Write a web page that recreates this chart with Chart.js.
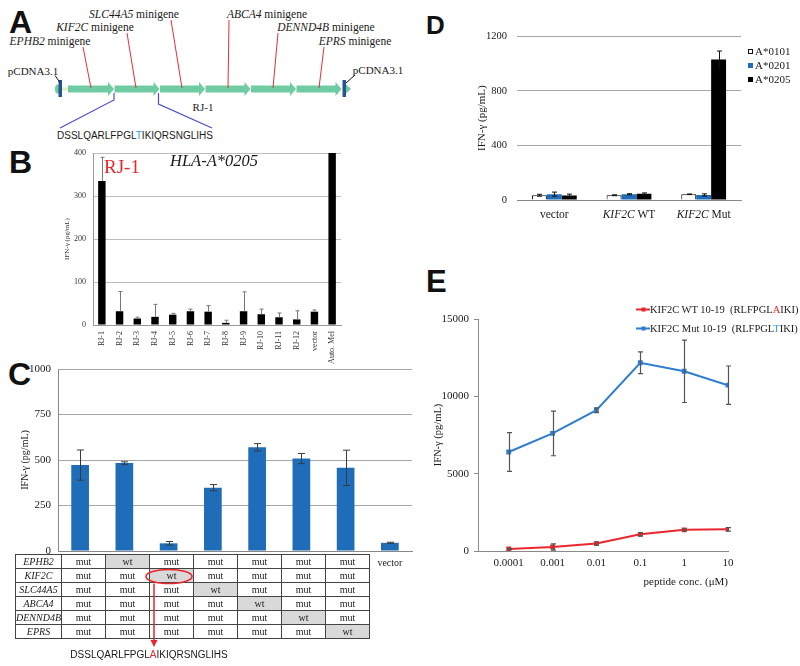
<!DOCTYPE html>
<html>
<head>
<meta charset="utf-8">
<script src="https://cdn.jsdelivr.net/npm/chart.js@4.4.1/dist/chart.umd.min.js"></script>
<style>
html, body { margin: 0; padding: 0; background: #fff; }
#fig { position: relative; width: 800px; height: 666px; overflow: hidden;
       font-family: "Liberation Serif", "Times New Roman", serif; color: #1a1a1a; }
canvas { position: absolute; }
.t  { position: absolute; white-space: nowrap; line-height: 1; transform: translate(-50%, -50%); }
.tl { position: absolute; white-space: nowrap; line-height: 1; transform: translate(0, -50%); }
.letter { font-family: "Liberation Sans", Arial, sans-serif; font-weight: bold; color: #111; }
.sans { font-family: "Liberation Sans", Arial, sans-serif; }
.sq { position: absolute; width: 5px; height: 5px; box-sizing: border-box; }
table.geno { position: absolute; left: 15px; top: 554px; border-collapse: collapse;
             table-layout: fixed; font-size: 10px; }
table.geno td { border: 1px solid #444; height: 13px; padding: 0; text-align: center;
                line-height: 12px; background: #fff; }
table.geno td.gene { font-style: italic; }
table.geno td.wt { background: #d9d9d9; }
</style>
</head>
<body>
<div id="fig">

  <!-- panel letters -->
  <div class="tl letter" style="left:9px;top:22px;font-size:32px">A</div>
  <div class="tl letter" style="left:9px;top:162px;font-size:32px">B</div>
  <div class="tl letter" style="left:8px;top:374px;font-size:32px">C</div>
  <div class="tl letter" style="left:426px;top:25px;font-size:26px">D</div>
  <div class="tl letter" style="left:426px;top:281px;font-size:31px">E</div>

  <!-- panel A: minigene construct diagram -->
  <svg id="diagA" width="420" height="150" style="position:absolute;left:0;top:0"></svg>
  <div class="t" style="left:50px;top:42px;font-size:11.5px"><i>EPHB2</i> minigene</div>
  <div class="t" style="left:95px;top:28px;font-size:11.5px"><i>KIF2C</i> minigene</div>
  <div class="t" style="left:134px;top:15px;font-size:11.5px"><i>SLC44A5</i> minigene</div>
  <div class="t" style="left:267px;top:15px;font-size:11.5px"><i>ABCA4</i> minigene</div>
  <div class="t" style="left:326px;top:28px;font-size:11.5px"><i>DENND4B</i> minigene</div>
  <div class="t" style="left:355px;top:42px;font-size:11.5px"><i>EPRS</i> minigene</div>
  <div class="t" style="left:33px;top:71px;font-size:11px">pCDNA3.1</div>
  <div class="t" style="left:378px;top:70px;font-size:11px">pCDNA3.1</div>
  <div class="t" style="left:203px;top:107px;font-size:11px">RJ-1</div>
  <div class="t sans" style="left:135px;top:136px;font-size:10px">DSSLQARLFPGL<span style="color:#29a3dc">T</span>IKIQRSNGLIHS</div>

  <!-- panel B -->
  <canvas id="chartB" width="310" height="232" style="left:45px;top:140px"></canvas>
  <div class="t" style="left:122px;top:166px;font-size:19px;color:#e8262c">RJ-1</div>
  <div class="t" style="left:214px;top:161px;font-size:16.5px;font-style:italic">HLA-A*0205</div>

  <!-- panel C -->
  <canvas id="chartC" width="415" height="220" style="left:5px;top:355px"></canvas>
  <table class="geno" id="tableC"></table>
  <svg width="420" height="90" style="position:absolute;left:0;top:566px">
    <ellipse cx="169" cy="10.5" rx="23" ry="7" fill="none" stroke="#e8262c" stroke-width="1.6"/>
    <line x1="154" y1="17.5" x2="154" y2="75" stroke="#e8262c" stroke-width="1.5"/>
    <path d="M150.5 74 L157.5 74 L154 81 Z" fill="#e8262c"/>
  </svg>
  <div class="t sans" style="left:149px;top:655px;font-size:10px">DSSLQARLFPGL<span style="color:#e8262c">A</span>IKIQRSNGLIHS</div>

  <!-- panel D -->
  <canvas id="chartD" width="280" height="210" style="left:470px;top:20px"></canvas>
  <div id="legendD"></div>

  <!-- panel E -->
  <canvas id="chartE" width="310" height="290" style="left:430px;top:305px"></canvas>
  <svg width="16" height="30" style="position:absolute;left:636px;top:302px">
    <line x1="0" y1="7.5" x2="14" y2="7.5" stroke="#e8282e" stroke-width="2"/>
    <rect x="5.5" y="5.5" width="4" height="4" fill="#e8282e"/>
    <line x1="0" y1="26.5" x2="14" y2="26.5" stroke="#2e7dd1" stroke-width="2"/>
    <rect x="5.5" y="24.5" width="4" height="4" fill="#2e7dd1"/>
  </svg>
  <div class="tl" style="left:650px;top:310px;font-size:10.5px">KIF2C WT 10-19&nbsp; (RLFPGL<span style="color:#e8262c">A</span>IKI)</div>
  <div class="tl" style="left:650px;top:329px;font-size:10.5px">KIF2C Mut 10-19&nbsp; (RLFPGL<span style="color:#29a3dc">T</span>IKI)</div>
</div>

<script>
/* ─────────────────────────────────────────
   DATA
───────────────────────────────────────── */
// B – minigene library screen (HLA-A*0205)
const catB = ['RJ-1', 'RJ-2', 'RJ-3', 'RJ-4', 'RJ-5', 'RJ-6', 'RJ-7', 'RJ-8',
              'RJ-9', 'RJ-10', 'RJ-11', 'RJ-12', 'vector', 'Auto. Mel'];
const valB = [335, 32, 15, 19, 24, 32, 31, 5, 32, 25, 18, 13, 31, 400];
const errB = [55, 46, 3, 29, 3, 5, 14, 6, 45, 12, 10, 20, 4, 0];

// C – single-gene wt swaps
const genesC = ['EPHB2', 'KIF2C', 'SLC44A5', 'ABCA4', 'DENND4B', 'EPRS'];
const catC = ['all mut', 'EPHB2 wt', 'KIF2C wt', 'SLC44A5 wt', 'ABCA4 wt',
              'DENND4B wt', 'EPRS wt', 'vector'];
const valC = [472, 483, 42, 348, 570, 508, 457, 45];
const errC = [83, 7, 10, 17, 20, 28, 97, 3];

// D – HLA restriction
const catD = ['vector', 'KIF2C WT', 'KIF2C Mut'];
const allelesD = ['A*0101', 'A*0201', 'A*0205'];
const valD0101 = [35, 35, 42];
const valD0201 = [43, 42, 37];
const valD0205 = [33, 45, 1030];
const errD0101 = [7, 3, 2];
const errD0201 = [15, 4, 8];
const errD0205 = [10, 7, 62];

// E – peptide titration
const concE = ['0.0001', '0.001', '0.01', '0.1', '1', '10'];
const valEwt  = [130, 260, 480, 1080, 1370, 1400];
const errEwt  = [40, 200, 100, 110, 70, 110];
const valEmut = [6400, 7600, 9100, 12170, 11620, 10720];
const errEmut = [1250, 1440, 150, 700, 2020, 1240];

/* ─────────────────────────────────────────
   Defaults + small plugins
───────────────────────────────────────── */
Chart.defaults.font.family = '"Liberation Serif", "Times New Roman", serif';
Chart.defaults.color = '#1a1a1a';
Chart.defaults.animation = false;
Chart.defaults.plugins.legend.display = false;
Chart.defaults.plugins.tooltip.enabled = false;

const plain = v => String(v);   // no thousands separators

// error bars from dataset.errors, through the y scale
const errorBars = {
  id: 'errorBars',
  afterDatasetsDraw(chart, args, opts) {
    const ctx = chart.ctx;
    const y = chart.scales.y;
    ctx.save();
    ctx.strokeStyle = opts.color || '#444';
    ctx.lineWidth = opts.width || 1;
    chart.data.datasets.forEach((ds, i) => {
      if (!ds.errors) return;
      chart.getDatasetMeta(i).data.forEach((el, j) => {
        const raw = ds.data[j];
        const v = typeof raw === 'object' ? raw.y : raw;
        const e = ds.errors[j];
        if (!e) return;
        const x = Math.round(el.x) + 0.5;
        const top = y.getPixelForValue(v + e);
        const bot = opts.upOnly ? y.getPixelForValue(v) : y.getPixelForValue(v - e);
        const c = opts.cap || 3;
        ctx.beginPath();
        ctx.moveTo(x, top); ctx.lineTo(x, bot);
        ctx.moveTo(x - c, top); ctx.lineTo(x + c, top);
        if (!opts.upOnly) { ctx.moveTo(x - c, bot); ctx.lineTo(x + c, bot); }
        ctx.stroke();
      });
    });
    ctx.restore();
  }
};

// category labels with italic gene name (panel D)
const geneLabels = {
  id: 'geneLabels',
  afterDraw(chart, args, opts) {
    const { ctx, scales: { x } } = chart;
    const fam = '"Liberation Serif", "Times New Roman", serif';
    const y = chart.chartArea.bottom + opts.offset;
    ctx.save();
    ctx.fillStyle = '#1a1a1a';
    ctx.textBaseline = 'middle';
    ctx.textAlign = 'left';
    chart.data.labels.forEach((lab, i) => {
      const cx = x.getPixelForValue(i);
      const parts = lab.split(' ');
      const ital = opts.italic.includes(parts[0]);
      const a = ital ? parts[0] : lab;
      const b = ital ? ' ' + parts.slice(1).join(' ') : '';
      ctx.font = (ital ? 'italic ' : '') + opts.size + 'px ' + fam;
      const wa = ctx.measureText(a).width;
      ctx.font = opts.size + 'px ' + fam;
      const wb = ctx.measureText(b).width;
      const sx = cx - (wa + wb) / 2;
      ctx.font = (ital ? 'italic ' : '') + opts.size + 'px ' + fam;
      ctx.fillText(a, sx, y);
      ctx.font = opts.size + 'px ' + fam;
      ctx.fillText(b, sx + wa, y);
    });
    ctx.restore();
  }
};

/* ─────────────────────────────────────────
   PANEL A – construct diagram (not data)
───────────────────────────────────────── */
(function drawDiagram() {
  const svg = document.getElementById('diagA');
  let s = '';
  const starts = [68, 114.5, 160, 205.5, 251, 296.5];
  const tips   = [114, 159.5, 205, 250.5, 296, 341.5];
  starts.forEach((x0, i) => {
    const x1 = tips[i], h = x1 - 6;
    s += `<path d="M${x0} 85.5 L${h} 85.5 L${h} 82 L${x1} 89 L${h} 96 L${h} 92.5 L${x0} 92.5 Z" fill="#6fcba2"/>`;
  });
  s += '<line x1="61" y1="89" x2="68" y2="89" stroke="#e6efc4" stroke-width="3"/>';
  s += '<ellipse cx="57.5" cy="89" rx="2.5" ry="4.5" fill="#6fcba2"/>';
  s += '<rect x="58.5" y="80" width="3.5" height="17" fill="#23578f"/>';
  s += '<path d="M345.5 84 L351 89 L345.5 94 Z" fill="#6fcba2"/>';
  s += '<rect x="342.5" y="80" width="3.5" height="17" fill="#23578f"/>';
  s += '<line x1="55" y1="75.5" x2="60" y2="82.5" stroke="#111" stroke-width="1"/>';
  s += '<line x1="355" y1="75" x2="346" y2="83" stroke="#111" stroke-width="1"/>';
  const red = [[83, 47, 91, 88], [127, 33, 136, 88], [171, 20, 182, 88],
               [229, 20, 228, 88], [278, 33, 273, 88], [324, 47, 319, 88]];
  red.forEach(l => {
    s += `<line x1="${l[0]}" y1="${l[1]}" x2="${l[2]}" y2="${l[3]}" stroke="#e0303c" stroke-width="1"/>`;
  });
  s += '<polyline points="114,93 114,100 60,128" fill="none" stroke="#4b4fc9" stroke-width="1.2"/>';
  s += '<polyline points="158.5,93 158.5,104 212,128" fill="none" stroke="#4b4fc9" stroke-width="1.2"/>';
  svg.innerHTML = s;
})();

/* ─────────────────────────────────────────
   PANEL B
───────────────────────────────────────── */
new Chart(document.getElementById('chartB'), {
  type: 'bar',
  data: {
    labels: catB,
    datasets: [{ data: valB, errors: errB, backgroundColor: '#000',
                 barPercentage: 0.42, categoryPercentage: 1 }]
  },
  options: {
    responsive: false,
    layout: { padding: { left: 0, top: 13, right: 14, bottom: 0 } },
    plugins: { errorBars: { color: '#777', width: 1, cap: 2, upOnly: true } },
    scales: {
      x: {
        grid: { display: false, drawTicks: false },
        border: { color: '#999' },
        ticks: { autoSkip: false, minRotation: 90, maxRotation: 90, padding: 6,
                 font: { size: 8 }, color: '#333' },
        afterFit: s => { s.height = 47; }
      },
      y: {
        min: 0, max: 400,
        grid: { color: '#bdbdbd', drawTicks: false },
        border: { color: '#999' },
        ticks: { stepSize: 100, padding: 7, font: { size: 8 }, color: '#333', callback: plain },
        title: { display: true, text: 'IFN-γ (pg/mL)', font: { size: 7 },
                 padding: { top: 18, bottom: 0 }, color: '#333' },
        afterFit: s => { s.width = 48; }
      }
    }
  },
  plugins: [errorBars]
});

/* ─────────────────────────────────────────
   PANEL C
───────────────────────────────────────── */
new Chart(document.getElementById('chartC'), {
  type: 'bar',
  data: {
    labels: catC,
    datasets: [{ data: valC, errors: errC, backgroundColor: '#1f6cb8',
                 barPercentage: 0.4, categoryPercentage: 1 }]
  },
  options: {
    responsive: false,
    layout: { padding: { left: 0, top: 14, right: 8, bottom: 0 } },
    plugins: { errorBars: { color: '#3a3a3a', width: 1, cap: 3.5 } },
    scales: {
      x: {
        grid: { display: false, drawTicks: false },
        border: { color: '#888' },
        ticks: { autoSkip: false, maxRotation: 0, padding: 6, font: { size: 10 },
                 callback: (v, i) => (catC[i] === 'vector' ? 'vector' : '') },
        afterFit: s => { s.height = 24; }
      },
      y: {
        min: 0, max: 1000,
        grid: { color: '#a6a6a6', drawTicks: false },
        border: { color: '#888' },
        ticks: { stepSize: 250, padding: 7, font: { size: 11 }, callback: plain },
        title: { display: true, text: 'IFN-γ (pg/mL)', font: { size: 10 },
                 padding: { top: 14, bottom: 0 } },
        afterFit: s => { s.width = 53; }
      }
    }
  },
  plugins: [errorBars]
});

// genotype table under C
(function buildTable() {
  const tbl = document.getElementById('tableC');
  let h = '<colgroup><col style="width:44px">' +
          '<col style="width:44px">'.repeat(7) + '</colgroup>';
  genesC.forEach((g, r) => {
    h += `<tr><td class="gene">${g}</td>`;
    for (let c = 0; c < 7; c++) {
      const wt = c === r + 1;
      h += `<td class="${wt ? 'wt' : ''}">${wt ? 'wt' : 'mut'}</td>`;
    }
    h += '</tr>';
  });
  tbl.innerHTML = h;
})();

/* ─────────────────────────────────────────
   PANEL D
───────────────────────────────────────── */
const colorsD = ['#ffffff', '#1f6cb8', '#000000'];
new Chart(document.getElementById('chartD'), {
  type: 'bar',
  data: {
    labels: catD,
    datasets: [
      { label: allelesD[0], data: valD0101, errors: errD0101, backgroundColor: colorsD[0],
        borderColor: '#000', borderWidth: 1 },
      { label: allelesD[1], data: valD0201, errors: errD0201, backgroundColor: colorsD[1] },
      { label: allelesD[2], data: valD0205, errors: errD0205, backgroundColor: colorsD[2] }
    ].map(d => Object.assign(d, { barPercentage: 1, categoryPercentage: 0.6 }))
  },
  options: {
    responsive: false,
    layout: { padding: { left: 0, top: 15, right: 9, bottom: 0 } },
    plugins: {
      errorBars: { color: '#111', width: 1, cap: 2.5 },
      geneLabels: { offset: 15, size: 11.5, italic: ['KIF2C'] }
    },
    scales: {
      x: {
        grid: { display: false, drawTicks: false },
        border: { color: '#888' },
        ticks: { display: false },
        afterFit: s => { s.height = 30; }
      },
      y: {
        min: 0, max: 1200,
        grid: { color: '#a6a6a6', drawTicks: false },
        border: { display: false },
        ticks: { stepSize: 400, padding: 10, font: { size: 10.5 }, callback: plain },
        title: { display: true, text: 'IFN-γ (pg/mL)', font: { size: 11 },
                 padding: { top: 6, bottom: 0 } },
        afterFit: s => { s.width = 47; }
      }
    }
  },
  plugins: [errorBars, geneLabels]
});

// legend D
(function legendD() {
  const box = document.getElementById('legendD');
  const ys = [51, 65, 79];
  let h = '';
  allelesD.forEach((a, i) => {
    const st = i === 0 ? 'background:#fff;border:1px solid #111' : `background:${colorsD[i]}`;
    h += `<div class="sq" style="left:748px;top:${ys[i] - 2.5}px;${st}"></div>`;
    h += `<div class="tl" style="left:755px;top:${ys[i]}px;font-size:11px">${a}</div>`;
  });
  box.innerHTML = h;
})();

/* ─────────────────────────────────────────
   PANEL E
───────────────────────────────────────── */
const toXY = arr => arr.map((v, i) => ({ x: i, y: v }));
new Chart(document.getElementById('chartE'), {
  type: 'line',
  data: {
    datasets: [
      { label: 'KIF2C WT 10-19 (RLFPGLAIKI)', data: toXY(valEwt), errors: errEwt,
        borderColor: '#e8282e', backgroundColor: '#e8282e', borderWidth: 2,
        pointStyle: 'rect', pointRadius: 2, tension: 0 },
      { label: 'KIF2C Mut 10-19 (RLFPGLTIKI)', data: toXY(valEmut), errors: errEmut,
        borderColor: '#2e7dd1', backgroundColor: '#2e7dd1', borderWidth: 2,
        pointStyle: 'rect', pointRadius: 2, tension: 0 }
    ]
  },
  options: {
    responsive: false,
    layout: { padding: { left: 0, top: 14, right: 12, bottom: 0 } },
    plugins: { errorBars: { color: '#555', width: 1.2, cap: 2.5 } },
    scales: {
      x: {
        type: 'linear', min: -0.7, max: concE.length - 1,
        afterBuildTicks: s => { s.ticks = concE.map((_, i) => ({ value: i })); },
        grid: { display: false, drawTicks: false },
        border: { color: '#8a8a8a' },
        ticks: { padding: 6, font: { size: 11 }, callback: v => concE[v] },
        title: { display: true, text: 'peptide conc. (μM)', align: 'end',
                 font: { size: 11 }, padding: { top: 0, bottom: 6 } },
        afterFit: s => { s.height = 44; }
      },
      y: {
        min: 0, max: 15000,
        grid: { display: true, drawOnChartArea: false, drawTicks: true, tickLength: 4, color: '#8a8a8a' },
        border: { color: '#8a8a8a' },
        ticks: { stepSize: 5000, padding: 5, font: { size: 11 }, callback: plain },
        title: { display: true, text: 'IFN-γ (pg/mL)', font: { size: 10.5 },
                 padding: { top: 2, bottom: 0 } },
        afterFit: s => { s.width = 48; }
      }
    }
  },
  plugins: [errorBars]
});
</script>
</body>
</html>
